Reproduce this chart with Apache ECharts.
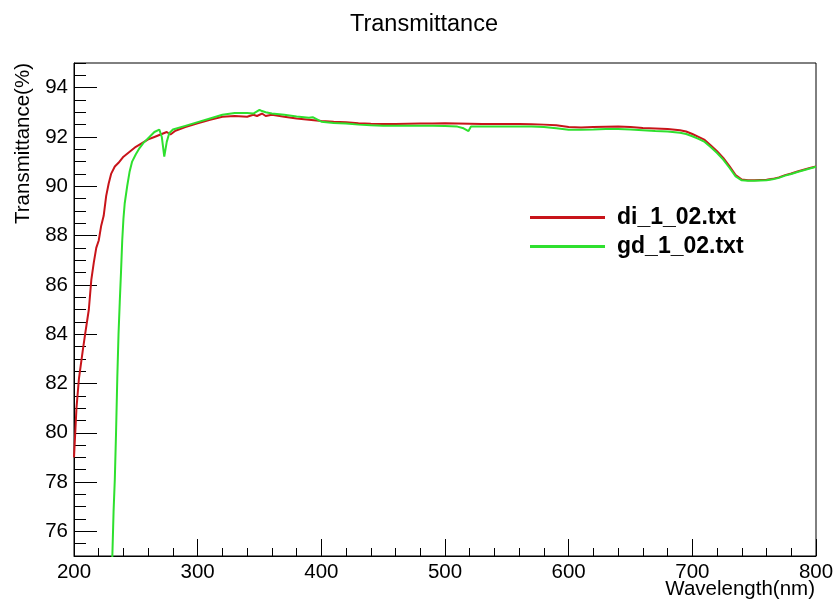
<!DOCTYPE html>
<html>
<head>
<meta charset="utf-8">
<script src="https://cdn.jsdelivr.net/npm/echarts@6/dist/echarts.min.js"></script>
<style>
  html, body { margin: 0; padding: 0; background: #fff; }
  #chart { width: 837px; height: 604px; }
</style>
</head>
<body>
<div id="chart"></div>
<script>
// di_1_02.txt
const diWavelength = [200, 201, 202, 204, 207, 209, 212, 214, 216, 218, 220, 222, 224, 226, 228, 230, 233, 236, 240, 245,
  250, 255, 260, 265, 270, 275, 278, 282, 290, 300, 310, 320, 330, 340, 345, 348, 352, 355, 360, 370,
  380, 390, 400, 410, 420, 430, 440, 450, 460, 470, 480, 490, 500, 510, 520, 530, 540, 550, 560, 570,
  580, 590, 600, 610, 620, 630, 640, 650, 660, 670, 680, 690, 695, 700, 705, 710, 715, 720, 725, 730,
  735, 740, 745, 750, 755, 760, 765, 770, 775, 780, 785, 790, 795, 800]
const diTransmittance = [79.0, 80.0, 81.0, 82.2, 83.3, 84.0, 85.0, 86.2, 86.9, 87.5, 87.8, 88.4, 88.8, 89.6, 90.1, 90.5, 90.8, 90.95, 91.2, 91.4,
  91.6, 91.75, 91.9, 92.0, 92.1, 92.2, 92.1, 92.25, 92.4, 92.55, 92.7, 92.82, 92.85, 92.82, 92.9, 92.85, 92.95, 92.85, 92.9, 92.82,
  92.75, 92.7, 92.65, 92.62, 92.6, 92.56, 92.54, 92.53, 92.53, 92.54, 92.55, 92.55, 92.56, 92.55, 92.54, 92.53, 92.53, 92.53, 92.53, 92.52,
  92.5, 92.47, 92.4, 92.38, 92.4, 92.41, 92.42, 92.4, 92.36, 92.34, 92.32, 92.27, 92.22, 92.12, 92.0, 91.88, 91.65, 91.42, 91.15, 90.82,
  90.45, 90.27, 90.24, 90.24, 90.25, 90.26, 90.3, 90.36, 90.45, 90.52, 90.6, 90.67, 90.74, 90.8]

// gd_1_02.txt
const gdWavelength = [230, 231, 232, 233, 234, 235, 236, 237, 238, 239, 240, 241, 243, 245, 247, 250, 253, 256, 260, 265,
  269, 271, 273, 275, 277, 280, 290, 300, 310, 320, 330, 340, 345, 350, 352, 355, 360, 370, 380, 390,
  393, 400, 410, 420, 430, 440, 450, 460, 470, 480, 490, 500, 510, 515, 519, 521, 530, 540, 550, 560,
  570, 580, 590, 600, 610, 620, 630, 640, 650, 660, 670, 680, 690, 695, 700, 705, 710, 715, 720, 725,
  730, 735, 740, 745, 750, 755, 760, 765, 770, 775, 780, 785, 790, 795, 800]
const gdTransmittance = [73.5, 75.0, 76.8, 78.1, 80.0, 82.2, 84.0, 85.3, 86.5, 87.8, 88.7, 89.3, 90.0, 90.6, 91.0, 91.3, 91.55, 91.75, 91.95, 92.2,
  92.3, 92.0, 91.2, 91.8, 92.15, 92.3, 92.45, 92.6, 92.75, 92.9, 92.97, 92.97, 92.95, 93.1, 93.05, 93.0, 92.95, 92.9, 92.83, 92.78,
  92.8, 92.62, 92.57, 92.55, 92.5, 92.47, 92.45, 92.45, 92.45, 92.45, 92.45, 92.44, 92.42, 92.35, 92.24, 92.42, 92.42, 92.42, 92.42, 92.42,
  92.42, 92.4, 92.35, 92.29, 92.29, 92.3, 92.32, 92.32, 92.3, 92.27, 92.24, 92.22, 92.17, 92.12, 92.03, 91.92, 91.8, 91.58, 91.35, 91.08,
  90.75, 90.4, 90.24, 90.22, 90.22, 90.23, 90.24, 90.28, 90.34, 90.43, 90.5, 90.58, 90.65, 90.72, 90.79]

const yLabels = [76, 78, 80, 82, 84, 86, 88, 90, 92, 94]

const font = 'Liberation Sans, Arial, sans-serif'
const zip = (xs, ys) => xs.map((x, i) => [x, ys[i]])

const chart = echarts.init(document.getElementById('chart'))

chart.setOption({
  animation: false,
  backgroundColor: '#fff',
  title: {
    text: 'Transmittance',
    left: 419,
    top: 8,
    textAlign: 'center',
    textStyle: { fontFamily: font, fontSize: 23.5, fontWeight: 'normal', color: '#000' }
  },
  grid: {
    left: 74, right: 21, top: 63, bottom: 48,
    show: true, borderColor: '#000', borderWidth: 1
  },
  legend: {
    orient: 'vertical',
    left: 530,
    top: 206,
    padding: 0,
    itemWidth: 75,
    itemHeight: 3,
    itemGap: 6,
    icon: 'rect',
    textStyle: { fontFamily: font, fontSize: 23, fontWeight: 'bold', color: '#000', padding: [0, 0, 0, 7] },
    data: ['di_1_02.txt', 'gd_1_02.txt']
  },
  xAxis: {
    type: 'value',
    min: 200, max: 800, interval: 100,
    axisLine: { lineStyle: { color: '#000', width: 1 } },
    axisTick: { inside: true, length: 17, lineStyle: { color: '#000' } },
    minorTick: { show: true, splitNumber: 5, length: 8, lineStyle: { color: '#000' } },
    axisLabel: { margin: 6, fontFamily: font, fontSize: 20.5, color: '#000',
      showMinLabel: true, showMaxLabel: true },
    splitLine: { show: false }
  },
  yAxis: [{
    type: 'value',
    min: 75, max: 95,
    axisLine: { lineStyle: { color: '#000', width: 1 } },
    axisTick: { inside: true, length: 23, customValues: yLabels, lineStyle: { color: '#000' } },
    axisLabel: { margin: 6, fontFamily: font, fontSize: 20.5, color: '#000', customValues: yLabels },
    splitLine: { show: false }
  }, {
    type: 'value',
    position: 'left',
    min: 75, max: 95, interval: 0.5,
    axisLine: { show: false },
    axisTick: { inside: true, length: 12, lineStyle: { color: '#000' } },
    axisLabel: { show: false },
    splitLine: { show: false }
  }],
  graphic: [{
    type: 'text',
    x: 23, y: 63,
    rotation: Math.PI / 2,
    style: { text: 'Transmittance(%)', font: '20.5px ' + font, fill: '#000',
      textAlign: 'right', textVerticalAlign: 'middle' }
  }, {
    type: 'text',
    x: 815, y: 589,
    style: { text: 'Wavelength(nm)', font: '20.5px ' + font, fill: '#000',
      textAlign: 'right', textVerticalAlign: 'middle' }
  }],
  series: [{
    name: 'di_1_02.txt',
    type: 'line',
    data: zip(diWavelength, diTransmittance),
    showSymbol: false,
    clip: true,
    color: '#c8141a',
    lineStyle: { color: '#c8141a', width: 2 }
  }, {
    name: 'gd_1_02.txt',
    type: 'line',
    data: zip(gdWavelength, gdTransmittance),
    showSymbol: false,
    clip: true,
    color: '#2ee02e',
    lineStyle: { color: '#2ee02e', width: 2 }
  }]
})
</script>
</body>
</html>
